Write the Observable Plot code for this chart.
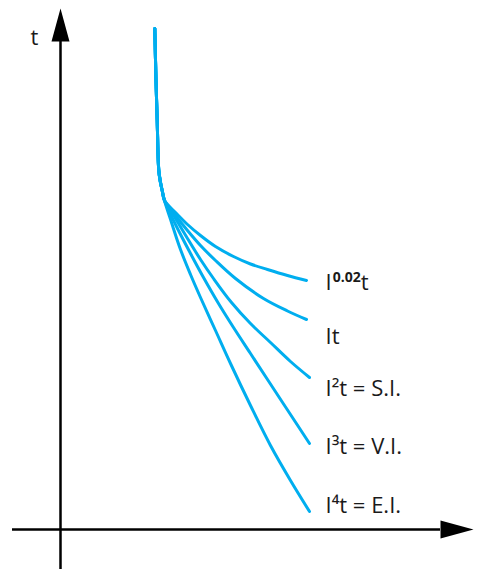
<!DOCTYPE html>
<html>
<head>
<meta charset="utf-8">
<script src="https://cdn.jsdelivr.net/npm/d3@7"></script>
<script src="https://cdn.jsdelivr.net/npm/@observablehq/plot@0.6"></script>
<style>
  html, body { margin: 0; padding: 0; background: #fff; }
  #chart svg { display: block; }
</style>
</head>
<body>
<div id="chart"></div>
<script>
// Shared steep part of the curve (current I, time t, arbitrary units)
const commonI = [9.43, 9.55, 9.67, 9.83, 10.0, 10.17, 10.4];
const commonT = [50.1, 44.9, 40.9, 35.9, 34.7, 33.9, 32.9];

// Branches, one per curve family
const curveNames = ["I0.02t", "It", "I2t", "I3t", "I4t"];
const branchI = [
  [11.5, 12.7, 14.0, 15.5, 17.3, 19.0, 20.7, 22.7, 24.6],
  [11.5, 12.7, 14.0, 15.5, 17.5, 20.3, 22.7, 24.6],
  [11.5, 12.7, 14.0, 15.3, 17.1, 19.0, 21.0, 23.0, 24.9],
  [11.5, 13.0, 14.3, 15.8, 17.3, 19.0, 20.7, 22.8, 24.9],
  [11.1, 12.0, 13.0, 14.0, 15.5, 17.0, 19.0, 21.0, 23.0, 24.9]
];
const branchT = [
  [31.7, 30.5, 29.4, 28.3, 27.3, 26.55, 26.0, 25.4, 24.9],
  [31.4, 29.9, 28.4, 26.9, 25.1, 23.1, 21.85, 21.0],
  [31.1, 29.1, 27.0, 25.1, 22.7, 20.6, 18.7, 16.8, 15.2],
  [30.5, 27.6, 25.2, 22.6, 20.2, 17.6, 15.0, 11.8, 8.6],
  [30.7, 28.0, 25.5, 23.2, 19.9, 16.6, 12.4, 8.4, 4.9, 1.8]
];

// Labels
const labelTexts = ["I0.02t", "It", "I²t = S.I.", "I³t = V.I.", "I⁴t = E.I."];
const labelI = [26.5, 26.5, 26.5, 26.5, 26.5];
const labelT = [24.7, 19.3, 14.1, 8.3, 2.4];

// Axes (data units)
const xDomain = [-6, 41.9];
const yDomain = [-4, 52.9];
const xAxisLine = [-4.8, 38.0];
const yAxisLine = [-4, 48.8];
const xArrowTip = 41.3;
const yArrowTip = 52.1;
const axisTitle = "t";
const axisTitleI = -2.6;
const axisTitleT = 49.2;

const curveColor = "#00aeef";
const inkColor = "#1a1a1a";
const fontFamily = "'Open Sans', 'Noto Sans', sans-serif";

const curveData = [];
curveNames.forEach((name, k) => {
  commonI.forEach((v, j) => curveData.push({series: name, I: v, t: commonT[j]}));
  branchI[k].forEach((v, j) => curveData.push({series: name, I: v, t: branchT[k][j]}));
});
const labelData = labelTexts.map((s, i) => ({text: s, I: labelI[i], t: labelT[i]}));
const arrowData = [
  {I: xArrowTip, t: 0, angle: 90},
  {I: 0, t: yArrowTip, angle: 0}
];
const arrowHead = {
  draw(ctx) {
    ctx.moveTo(0, 0);
    ctx.lineTo(9, 33);
    ctx.lineTo(-9, 33);
    ctx.closePath();
  }
};

const svg = Plot.plot({
  width: 479,
  height: 569,
  margin: 0,
  x: {domain: xDomain, axis: null},
  y: {domain: yDomain, axis: null},
  style: {fontFamily, background: "white", overflow: "visible"},
  marks: [
    Plot.ruleY([0], {x1: xAxisLine[0], x2: xAxisLine[1], stroke: "black", strokeWidth: 2.5}),
    Plot.ruleX([0], {y1: yAxisLine[0], y2: yAxisLine[1], stroke: "black", strokeWidth: 2.5}),
    Plot.dot(arrowData, {x: "I", y: "t", rotate: "angle", symbol: arrowHead, fill: "black", stroke: "none", r: 5}),
    Plot.line(curveData, {x: "I", y: "t", z: "series", stroke: curveColor, strokeWidth: 3, curve: "catmull-rom"}),
    Plot.text(labelData, {x: "I", y: "t", text: "text", textAnchor: "start", fontSize: 22, fill: inkColor}),
    Plot.text([{s: axisTitle, I: axisTitleI, t: axisTitleT}], {x: "I", y: "t", text: "s", fontSize: 22, fill: inkColor})
  ]
});

// Superscript for the 0.02 exponent
d3.select(svg).selectAll("text").each(function() {
  if (this.textContent === "I0.02t") {
    const el = d3.select(this);
    el.text("");
    el.append("tspan").text("I");
    el.append("tspan").attr("dx", 1).attr("dy", -8).attr("font-size", 14).attr("font-weight", 700).text("0.02");
    el.append("tspan").attr("dy", 8).text("t");
  }
});

document.getElementById("chart").appendChild(svg);
</script>
</body>
</html>
